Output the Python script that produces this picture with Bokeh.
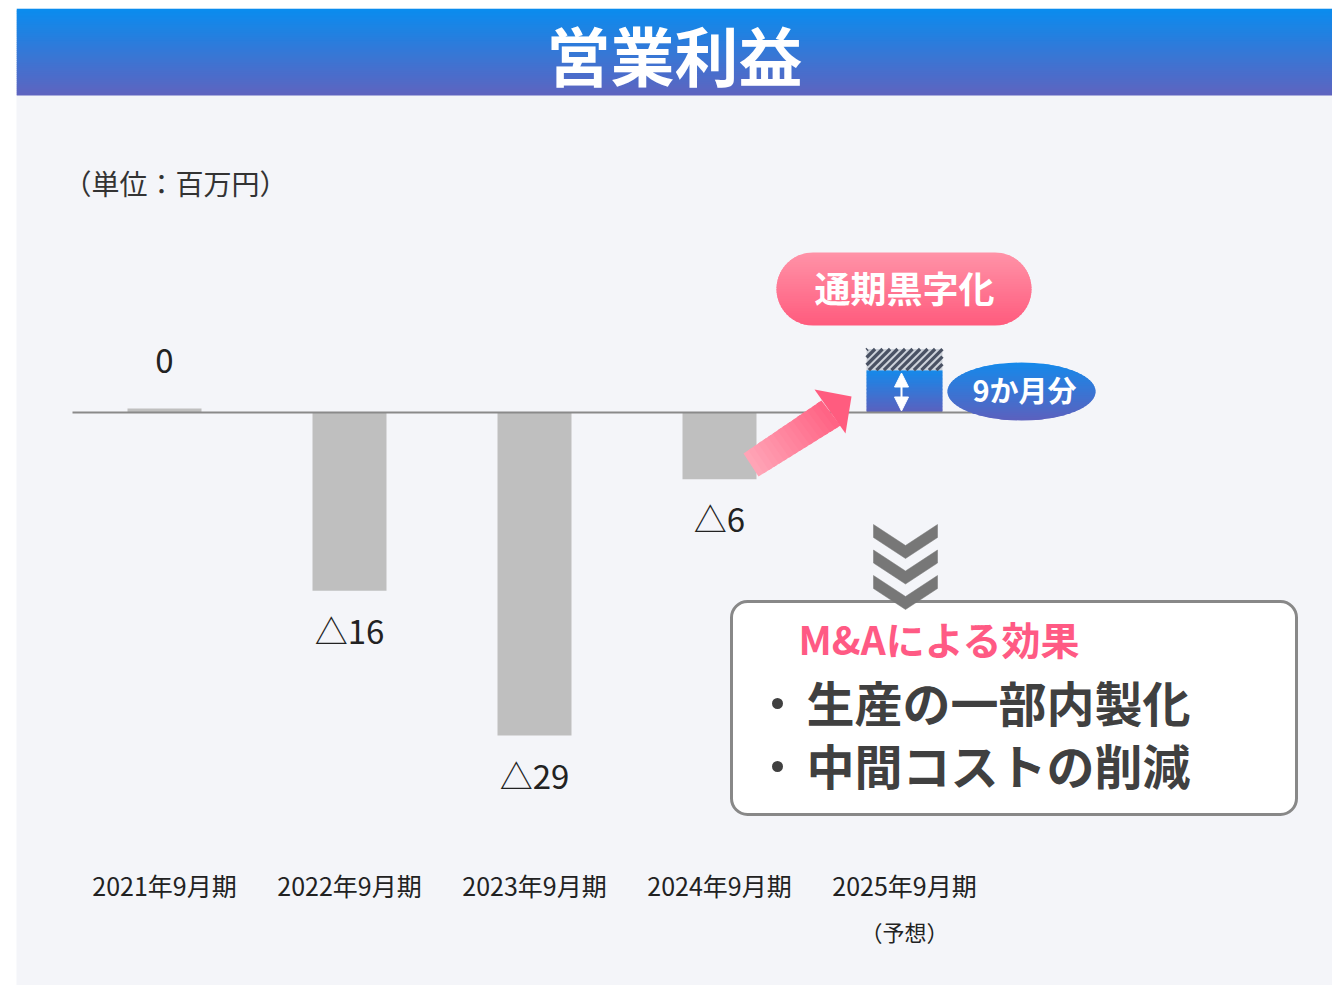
import numpy as np
from bokeh.plotting import figure
from bokeh.models import Range1d, BoxAnnotation, Arrow, NormalHead, ColumnDataSource
from bokeh.core.properties import value
from bokeh.embed import file_html
from bokeh.resources import INLINE

# ---------------- data ----------------
title = "営業利益"
unit_label = "（単位：百万円）"
categories = ["2021年9月期", "2022年9月期", "2023年9月期", "2024年9月期", "2025年9月期"]
actual_values = [0.35, -16, -29, -6]
value_labels = ["0", "△16", "△29", "△6"]
forecast_9m = 3.8
forecast_full_extra = 1.9
forecast_note = "（予想）"
forecast_badge = "9か月分"
profit_badge = "通期黒字化"
effect_title = "M&Aによる効果"
effect_items = ["生産の一部内製化", "中間コストの削減"]

FONT = value("Noto Sans CJK JP")

# ---------------- layout helpers (page pixels -> data) ----------------
W, H = 1332, 985
FL, FT = 16, 8           # frame left / top in page pixels
X_C0, X_STEP = 164.0, 185.0
Y_BASE, Y_UNIT = 412.0, 11.14
TY = -3                  # text vertical nudge (px)


def dx(px):
    return (px - X_C0) / X_STEP


def dy(py):
    return (Y_BASE - py) / Y_UNIT


def lerp_color(c1, c2, t):
    a = [int(c1[i:i + 2], 16) for i in (1, 3, 5)]
    b = [int(c2[i:i + 2], 16) for i in (1, 3, 5)]
    return "#%02x%02x%02x" % tuple(int(round(a[i] + (b[i] - a[i]) * t)) for i in range(3))


p = figure(width=W, height=H, x_range=Range1d(dx(FL), dx(W)), y_range=Range1d(dy(H), dy(FT)),
           output_backend="svg", toolbar_location=None, x_axis_type=None, y_axis_type=None,
           min_border_left=FL, min_border_right=0, min_border_top=FT, min_border_bottom=0,
           background_fill_color="#f4f5f9", border_fill_color="white", outline_line_color=None)
p.grid.visible = False

# ---------------- header band ----------------
n = 44
step = 87 / n
hc = [lerp_color("#0a8cee", "#5e64c0", k / (n - 1)) for k in range(n)]
p.quad(left=dx(FL), right=dx(W),
       top=[dy(8 + step * k) for k in range(n)],
       bottom=[dy(min(8 + step * (k + 1.6), 95)) for k in range(n)],
       fill_color=hc, line_color=None)
p.text(x=[dx(674)], y=[dy(55 + TY)], text=[title], text_font=FONT, text_font_style="bold",
       text_font_size="64px", text_color="white", text_align="center", text_baseline="middle")

p.text(x=[dx(175)], y=[dy(185 + TY)], text=[unit_label], text_font=FONT, text_font_size="28px",
       text_color="#333333", text_align="center", text_baseline="middle")

# ---------------- bars ----------------
xs = list(range(len(actual_values)))
p.vbar(x=xs, width=0.4, top=actual_values, bottom=0, fill_color="#bfbfbf", line_color=None)

# forecast bar (gradient) + hatched remainder
nb = 30
fc = [lerp_color("#1689ea", "#5b61be", 1 - k / (nb - 1)) for k in range(nb)]
fx = len(actual_values)
bw = 0.41
p.quad(left=fx - bw / 2, right=fx + bw / 2,
       bottom=[forecast_9m * k / nb for k in range(nb)],
       top=[forecast_9m * min(k + 1.6, nb) / nb for k in range(nb)],
       fill_color=fc, line_color=None)
p.vbar(x=[fx], width=bw, bottom=[forecast_9m], top=[forecast_9m + forecast_full_extra],
       fill_color="#cdd2da", line_color=None)

# diagonal stripes clipped to the hatched block (computed in screen px, then mapped)
x_l = X_C0 + (fx - bw / 2) * X_STEP
x_r = X_C0 + (fx + bw / 2) * X_STEP
y_b = Y_BASE - forecast_9m * Y_UNIT
y_t = Y_BASE - (forecast_9m + forecast_full_extra) * Y_UNIT
sx0, sy0, sx1, sy1 = [], [], [], []
period = 7.5
c = x_l + y_t + 1
while c < x_r + y_b:
    pts = []
    for xx in (x_l, x_r):
        yy = c - xx
        if y_t <= yy <= y_b:
            pts.append((xx, yy))
    for yy in (y_t, y_b):
        xx = c - yy
        if x_l <= xx <= x_r:
            pts.append((xx, yy))
    pts = sorted(set(pts))
    if len(pts) >= 2:
        (a0, b0), (a1, b1) = pts[0], pts[-1]
        sx0.append(dx(a0)); sy0.append(dy(b0)); sx1.append(dx(a1)); sy1.append(dy(b1))
    c += period
p.segment(x0=sx0, y0=sy0, x1=sx1, y1=sy1, line_color="#4a5264", line_width=3.2)

# baseline
p.segment(x0=[dx(72)], y0=[0], x1=[dx(985)], y1=[0], line_color="#8a8a8a", line_width=2)

# white double arrow inside forecast bar
p.add_layout(Arrow(x_start=dx(901), y_start=dy(410.5), x_end=dx(901), y_end=dy(372.5),
                   line_color="white", line_width=2,
                   start=NormalHead(size=14, fill_color="white", line_color="white"),
                   end=NormalHead(size=14, fill_color="white", line_color="white")))

# ---------------- value labels ----------------
lab_src = ColumnDataSource(dict(x=xs, y=actual_values, t=value_labels,
                                off=[-45 + TY if v > 0 else 42 + TY for v in actual_values]))
p.text(x="x", y="y", text="t", y_offset="off", source=lab_src, text_font=FONT,
       text_font_size="33px", text_color="#222222", text_align="center", text_baseline="middle")

# category labels
p.text(x=list(range(len(categories))), y=[dy(887 + TY)] * len(categories), text=categories,
       text_font=FONT, text_font_size="25px", text_color="#222222",
       text_align="center", text_baseline="middle")
p.text(x=[fx], y=[dy(933 + TY)], text=[forecast_note], text_font=FONT, text_font_size="22px",
       text_color="#222222", text_align="center", text_baseline="middle")

# ---------------- pink arrow ----------------
T1, T2 = np.array([743.0, 453.0]), np.array([758.0, 476.0])
H1, H2 = np.array([821.0, 400.0]), np.array([840.0, 425.0])
na = 16
axs, ays, acol = [], [], []
for k in range(na):
    t0, t1 = k / na, min((k + 1.6) / na, 1.0)
    pts = [T1 + t0 * (H1 - T1), T1 + t1 * (H1 - T1), T2 + t1 * (H2 - T2), T2 + t0 * (H2 - T2)]
    axs.append([dx(q[0]) for q in pts])
    ays.append([dy(q[1]) for q in pts])
    acol.append(lerp_color("#ffa6b8", "#ff6283", (k + 0.5) / na))
head = [(814, 389), (851, 396), (845, 433)]
axs.append([dx(q[0]) for q in head])
ays.append([dy(q[1]) for q in head])
acol.append("#ff5c7f")
p.patches(xs=axs, ys=ays, fill_color=acol, line_color=None)

# ---------------- pill "通期黒字化" ----------------
pcx, pcy, pw, pr = 903.5, 288.5, 127.5, 36.5
npill = 30
pxs, pys, pcol = [], [], []
for k in range(npill):
    ya = pcy - pr + 2 * pr * k / npill
    yb = pcy - pr + 2 * pr * min(k + 1.6, npill) / npill
    yy = np.linspace(ya, yb, 8)
    hw = (pw - pr) + np.sqrt(np.clip(pr ** 2 - (yy - pcy) ** 2, 0, None))
    xx = np.concatenate([pcx - hw, (pcx + hw)[::-1]])
    yv = np.concatenate([yy, yy[::-1]])
    pxs.append([dx(v) for v in xx])
    pys.append([dy(v) for v in yv])
    pcol.append(lerp_color("#ff92a7", "#ff5c7e", k / (npill - 1)))
p.patches(xs=pxs, ys=pys, fill_color=pcol, line_color=None)
p.text(x=[dx(904)], y=[dy(289 + TY)], text=[profit_badge], text_font=FONT, text_font_style="bold",
       text_font_size="36px", text_color="white", text_align="center", text_baseline="middle")

# ---------------- ellipse "9か月分" ----------------
ecx, ecy, ea, eb = 1021.0, 391.0, 74.0, 29.0
ne = 30
exs, eys, ecol = [], [], []
for k in range(ne):
    ya = ecy - eb + 2 * eb * k / ne
    yb = ecy - eb + 2 * eb * min(k + 1.6, ne) / ne
    yy = np.linspace(ya, yb, 8)
    hw = ea * np.sqrt(np.clip(1 - ((yy - ecy) / eb) ** 2, 0, None))
    xx = np.concatenate([ecx - hw, (ecx + hw)[::-1]])
    yv = np.concatenate([yy, yy[::-1]])
    exs.append([dx(v) for v in xx])
    eys.append([dy(v) for v in yv])
    ecol.append(lerp_color("#1689ea", "#5b61be", k / (ne - 1)))
p.patches(xs=exs, ys=eys, fill_color=ecol, line_color=None)
p.text(x=[dx(1024)], y=[dy(391 + TY)], text=[forecast_badge], text_font=FONT, text_font_style="bold",
       text_font_size="29px", text_color="white", text_align="center", text_baseline="middle")

# ---------------- effect box ----------------
p.add_layout(BoxAnnotation(left=dx(731), right=dx(1296), top=dy(601), bottom=dy(814),
                           fill_color="white", fill_alpha=1, line_color="#888888", line_width=3,
                           line_alpha=1, border_radius=16))

# chevrons
cxs, cys = [], []
for k in range(3):
    o = 25.5 * k
    pts = [(873, 524 + o), (905, 545 + o), (937, 524 + o), (937, 537 + o), (905, 558 + o), (873, 537 + o)]
    cxs.append([dx(q[0]) for q in pts])
    cys.append([dy(q[1]) for q in pts])
p.patches(xs=cxs, ys=cys, fill_color="#777777", line_color="#777777", line_width=0.5, level="overlay")

p.text(x=[dx(798)], y=[dy(640 + TY)], text=[effect_title], text_font=FONT, text_font_style="bold",
       text_font_size="39px", text_color="#ff5a84", text_align="left", text_baseline="middle",
       level="overlay")
item_y = [dy(703), dy(766)]
p.scatter(x=[dx(777)] * len(effect_items), y=item_y, size=11, marker="circle",
          fill_color="#404040", line_color=None, level="overlay")
p.text(x=[dx(806)] * len(effect_items), y=[dy(703 + TY), dy(766 + TY)], text=effect_items,
       text_font=FONT, text_font_style="bold", text_font_size="48px", text_color="#404040",
       text_align="left", text_baseline="middle", level="overlay")

open("out.html", "w").write(file_html(p, INLINE))
